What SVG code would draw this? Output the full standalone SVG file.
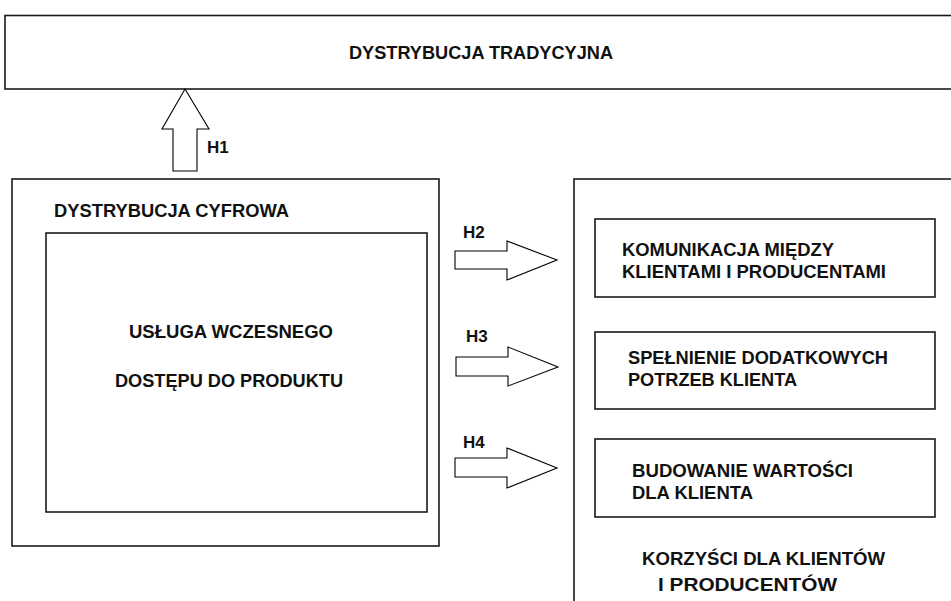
<svg xmlns="http://www.w3.org/2000/svg" width="951" height="601" viewBox="0 0 951 601">
<style>
.box{fill:#fff;stroke:#1a1a1a;stroke-width:1.6}
.arr{fill:#fff;stroke:#000;stroke-width:1.1;stroke-linejoin:miter}
.t{font-family:"Liberation Sans",Arial,sans-serif;font-weight:bold;font-size:19px;fill:#111}
.h{font-family:"Liberation Sans",Arial,sans-serif;font-weight:bold;font-size:17px;fill:#111}
</style>
<rect width="951" height="601" fill="#fff"/>
<g id="tradycyjna">
<rect class="box" x="5" y="15.5" width="960" height="73.5"/>
<text class="t" x="349" y="59" textLength="264" lengthAdjust="spacingAndGlyphs">DYSTRYBUCJA TRADYCYJNA</text>
</g>
<g id="cyfrowa">
<rect class="box" x="12" y="179" width="427" height="367"/>
<text class="t" x="54" y="217" textLength="235" lengthAdjust="spacingAndGlyphs">DYSTRYBUCJA CYFROWA</text>
</g>
<g id="usluga">
<rect class="box" x="46" y="233" width="381" height="279"/>
<text class="t" x="129" y="338" textLength="204" lengthAdjust="spacingAndGlyphs">USŁUGA WCZESNEGO</text>
<text class="t" x="115" y="387" textLength="228" lengthAdjust="spacingAndGlyphs">DOSTĘPU DO PRODUKTU</text>
</g>
<g id="korzysci">
<rect class="box" x="574" y="179" width="400" height="440"/>
<text class="t" x="642" y="565" textLength="243" lengthAdjust="spacingAndGlyphs">KORZYŚCI DLA KLIENTÓW</text>
<text class="t" x="658" y="591" textLength="179" lengthAdjust="spacingAndGlyphs">I PRODUCENTÓW</text>
</g>
<g id="komunikacja">
<rect class="box" x="595" y="219" width="340" height="78"/>
<text class="t" x="622" y="256" textLength="212" lengthAdjust="spacingAndGlyphs">KOMUNIKACJA MIĘDZY</text>
<text class="t" x="622" y="278" textLength="264" lengthAdjust="spacingAndGlyphs">KLIENTAMI I PRODUCENTAMI</text>
</g>
<g id="spelnienie">
<rect class="box" x="595" y="332" width="340" height="77"/>
<text class="t" x="628" y="364" textLength="260" lengthAdjust="spacingAndGlyphs">SPEŁNIENIE DODATKOWYCH</text>
<text class="t" x="628" y="386" textLength="169" lengthAdjust="spacingAndGlyphs">POTRZEB KLIENTA</text>
</g>
<g id="budowanie">
<rect class="box" x="595" y="439" width="340" height="78"/>
<text class="t" x="632" y="477" textLength="221" lengthAdjust="spacingAndGlyphs">BUDOWANIE WARTOŚCI</text>
<text class="t" x="632" y="499" textLength="121" lengthAdjust="spacingAndGlyphs">DLA KLIENTA</text>
</g>
<g id="connectors">
<polygon class="arr" points="185,89 209,129 197,129 197,171 173,171 173,129 162,129"/>
<text class="h" x="207" y="153">H1</text>
<polygon class="arr" points="455,251 507,251 507,241 557,260 507,280 507,269 455,269"/>
<text class="h" x="463" y="238">H2</text>
<polygon class="arr" points="456,357 508,357 508,347 558,367 508,386 508,376 456,376"/>
<text class="h" x="466" y="342">H3</text>
<polygon class="arr" points="455,458 507,458 507,448 557,468 507,488 507,477 455,477"/>
<text class="h" x="463" y="448">H4</text>
</g>
</svg>
